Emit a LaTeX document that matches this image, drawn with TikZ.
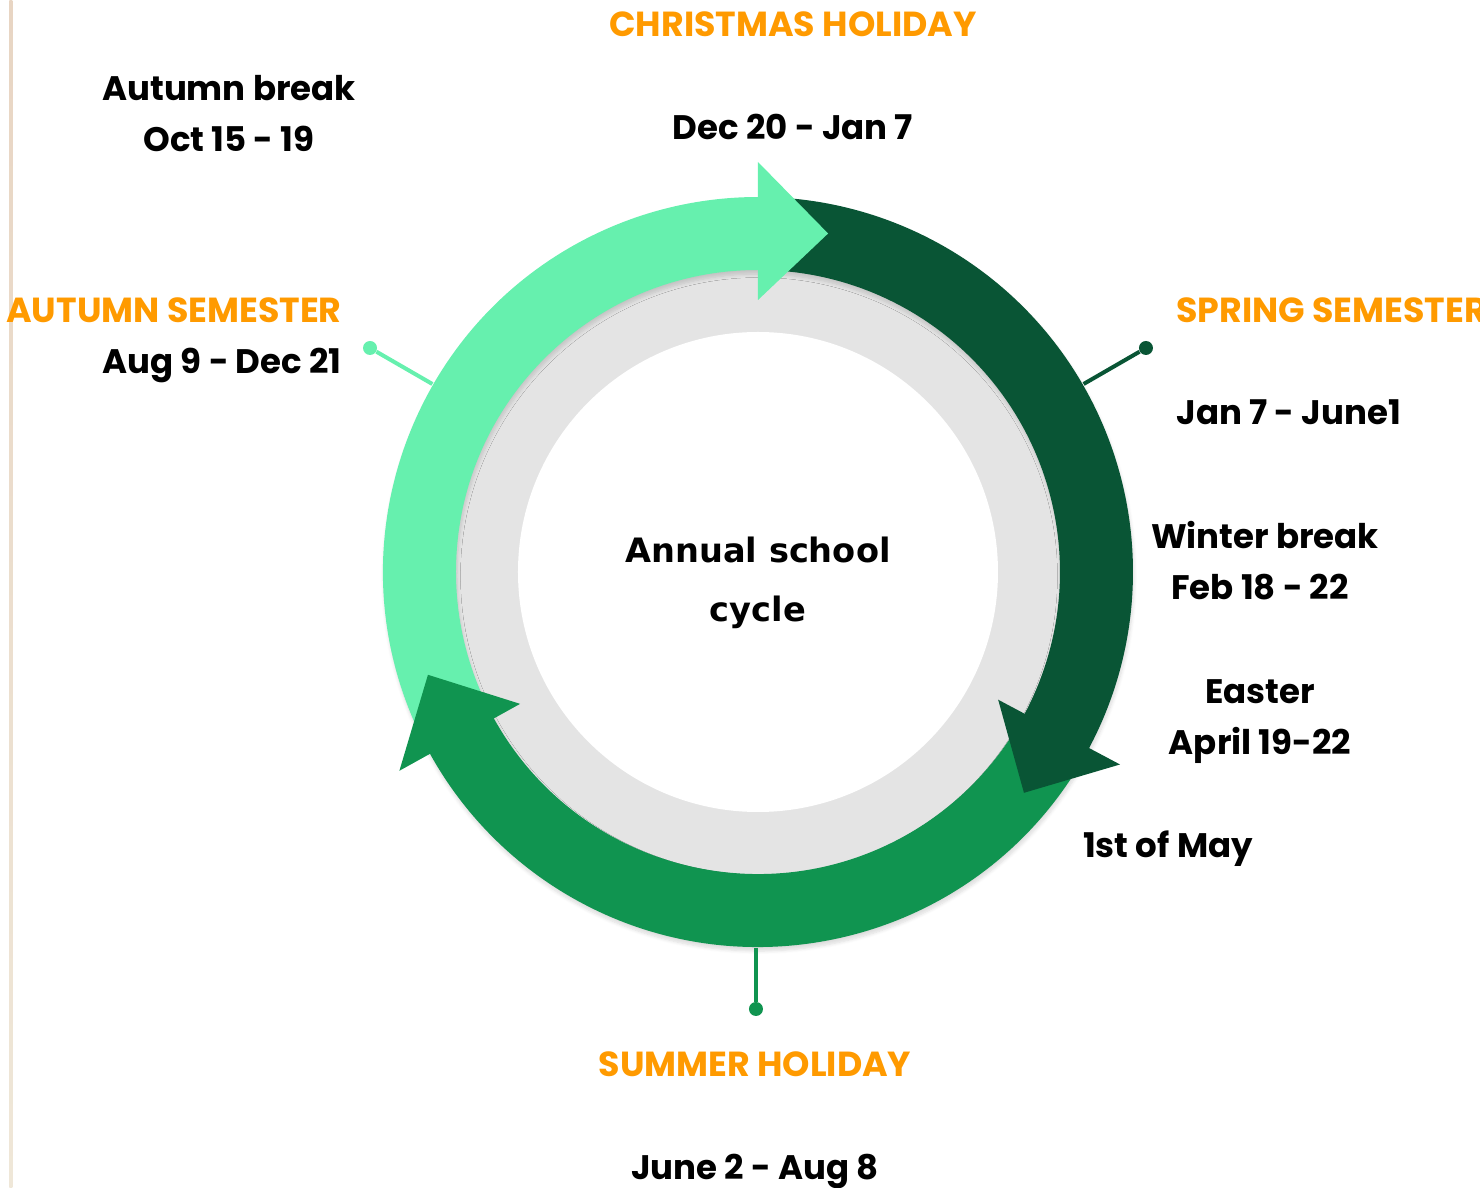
\documentclass[tikz,border=0pt]{standalone}
\usepackage{fontspec}
\newfontfamily\gothicfont{Poppins}
\newfontfamily\centrefont{DejaVu Sans}
\usetikzlibrary{calc,positioning,shadows.blur}

\definecolor{lightgreen}{HTML}{66F0AE}
\definecolor{darkgreen}{HTML}{095535}
\definecolor{midgreen}{HTML}{109450}
\definecolor{labelorange}{HTML}{FF9A00}
\definecolor{ringgrey}{HTML}{E4E4E4}
\definecolor{bordertop}{HTML}{E8D5C3}
\definecolor{borderbottom}{HTML}{EFE7D8}

% one band of the ring, clockwise from #2 to #3
\newcommand{\ringband}[3]{\fill[#1,blur shadow={shadow xshift=0.5pt,shadow yshift=-2pt,shadow blur steps=6,shadow opacity=14}]
  (#2:187.5pt) arc[start angle=#2,end angle=#3,radius=187.5pt] -- (#3:151pt)
  arc[start angle=#3,end angle=#2,radius=151pt] -- cycle;}
% head of a band, base at angle #2
\newcommand{\ringhead}[2]{\fill[#1] (#2:136pt) -- ({#2-11.7}:172.85pt) -- (#2:205pt) -- cycle;}

\begin{document}
\begin{tikzpicture}[x=0.5pt,y=0.5pt,
    every node/.style={font=\gothicfont\bfseries\fontsize{17}{20}\selectfont,inner sep=0pt,text height=12pt,text depth=0pt},
    title/.style={text=labelorange,font=\gothicfont\bfseries\fontsize{17.4}{20}\selectfont},
    centre/.style={font=\centrefont\bfseries\fontsize{16.8}{22}\selectfont,text height=12.4pt},
    dot/.style={circle,minimum size=7pt,text height=,text depth=},
    node distance=25.5pt]
    \useasboundingbox (-758,572) rectangle (722,-616);
    \shade[top color=bordertop,bottom color=borderbottom] (-748.5,572) rectangle (-745.5,-616);

    % ring behind the arrows
    \fill[ringgrey] (0,0) circle[radius=153pt];
    \fill[white] (0,0) circle[radius=120pt];

    % arrows
    \ringband{lightgreen}{205}{89}
    \ringband{darkgreen}{86}{-29}
    \ringband{midgreen}{-32}{-152}
    \ringhead{lightgreen}{90}
    \ringhead{darkgreen}{-28}
    \ringhead{midgreen}{209}

    % callouts
    \coordinate (autumnring) at (150:188pt);
    \node[dot,fill=lightgreen] (autumndot) at (150:224pt) {};
    \draw[lightgreen,line width=2pt] (autumnring) -- (autumndot);
    \coordinate (springring) at (30:188pt);
    \node[dot,fill=darkgreen] (springdot) at (30:224pt) {};
    \draw[darkgreen,line width=2pt] (springring) -- (springdot);
    \coordinate (summerring) at (-2,-376);
    \node[dot,fill=midgreen] (summerdot) at (-2,-437) {};
    \draw[midgreen,line width=2pt] (summerring) -- (summerdot);

    % labels
    \node[title] (xmas) at (35,547) {CHRISTMAS HOLIDAY};
    \node (xmasdate) [below of=xmas,node distance=51.5pt] {Dec 20 - Jan 7};
    \node (autumnbreak) at (-529,483) {Autumn break};
    \node (autumnbreakdate) [below of=autumnbreak] {Oct 15 - 19};
    \node[title,anchor=east] (autumn) at (-416,261) {AUTUMN SEMESTER};
    \node[anchor=east] (autumndate) at (-416,210) {Aug 9 - Dec 21};
    \node[title,anchor=west] (spring) at (418,261) {SPRING SEMESTER};
    \node[anchor=west] (springdate) at (418,159) {Jan 7 - June1};
    \node (winter) at (507,35) {Winter break};
    \node (winterdate) [below of=winter,xshift=-2.5pt] {Feb 18 - 22};
    \node (easter) at (502,-120) {Easter};
    \node (easterdate) [below of=easter] {April 19-22};
    \node (may) at (410,-274) {1st of May};
    \node[title] (summer) at (-3,-493) {SUMMER HOLIDAY};
    \node (summerdate) [below of=summer,node distance=51.5pt] {June 2 - Aug 8};
    \node[centre] (cycle) at (0,22) {Annual school};
    \node[centre] (cycle2) [below of=cycle,node distance=29.5pt] {cycle};
\end{tikzpicture}
\end{document}
